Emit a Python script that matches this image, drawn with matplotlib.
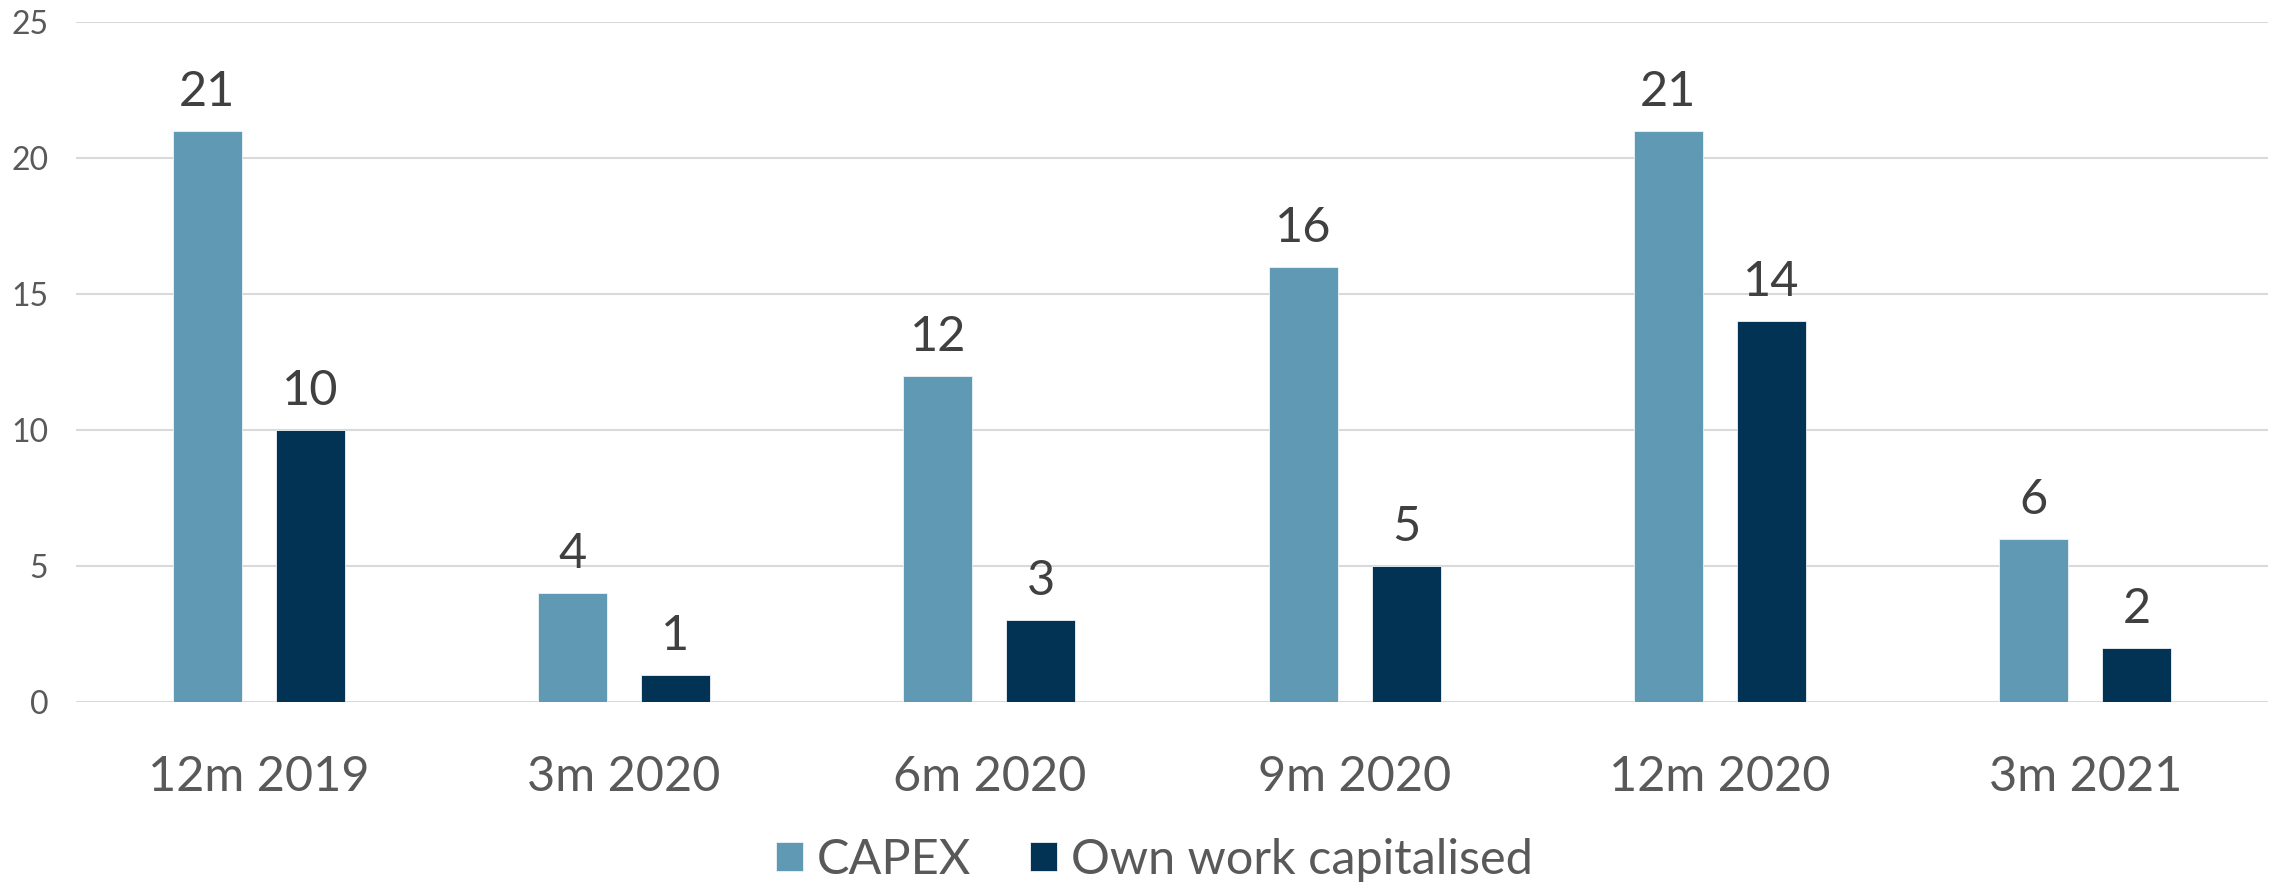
import numpy as np
import matplotlib
matplotlib.use("Agg")
import matplotlib.pyplot as plt

# data
categories = ["12m 2019", "3m 2020", "6m 2020", "9m 2020", "12m 2020", "3m 2021"]
capex = [21, 4, 12, 16, 21, 6]
own_work = [10, 1, 3, 5, 14, 2]
series_names = ["CAPEX", "Own work capitalised"]
yticks = [0, 5, 10, 15, 20, 25]

plt.rcParams['font.family'] = ['Lato', 'DejaVu Sans']

fig = plt.figure(figsize=(22.77, 8.88), dpi=100)
ax = fig.add_axes([0.0334, 0.2095, 0.9626, 0.7655])

x = np.arange(len(categories))
w = 0.189
off = 0.141
b1 = ax.bar(x - off, capex, w, color="#5F99B4", edgecolor="#EEF3F6", linewidth=0.6, label=series_names[0], zorder=3)
b2 = ax.bar(x + off, own_work, w, color="#023354", edgecolor="#EEF3F6", linewidth=0.6, label=series_names[1], zorder=3)

# value labels above bars
for bars in (b1, b2):
    for r in bars:
        h = r.get_height()
        ax.annotate(str(h), (r.get_x() + r.get_width() / 2, h),
                    xytext=(0, 18), textcoords="offset points",
                    ha="center", va="baseline", fontsize=35, color="#404040")

ax.set_xlim(-0.5, len(categories) - 0.5)
ax.set_ylim(0, 25)
ax.set_yticks(yticks)
ax.set_xticks(x)
ax.set_xticklabels(categories)
ax.tick_params(axis="y", length=0, pad=20, labelsize=23, labelcolor="#595959")
ax.tick_params(axis="x", length=0, pad=38, labelsize=35, labelcolor="#595959")
ax.grid(axis="y", color="#D9D9D9", linewidth=1.5, zorder=0)
for s in ax.spines.values():
    s.set_visible(False)

leg = fig.legend(loc="center", bbox_to_anchor=(0.507, 0.032), ncol=2, frameon=False,
                 fontsize=35, handlelength=0.55, handleheight=0.55, handletextpad=0.3,
                 columnspacing=1.2, labelcolor="#595959")

fig.savefig("out.png", dpi=100)
